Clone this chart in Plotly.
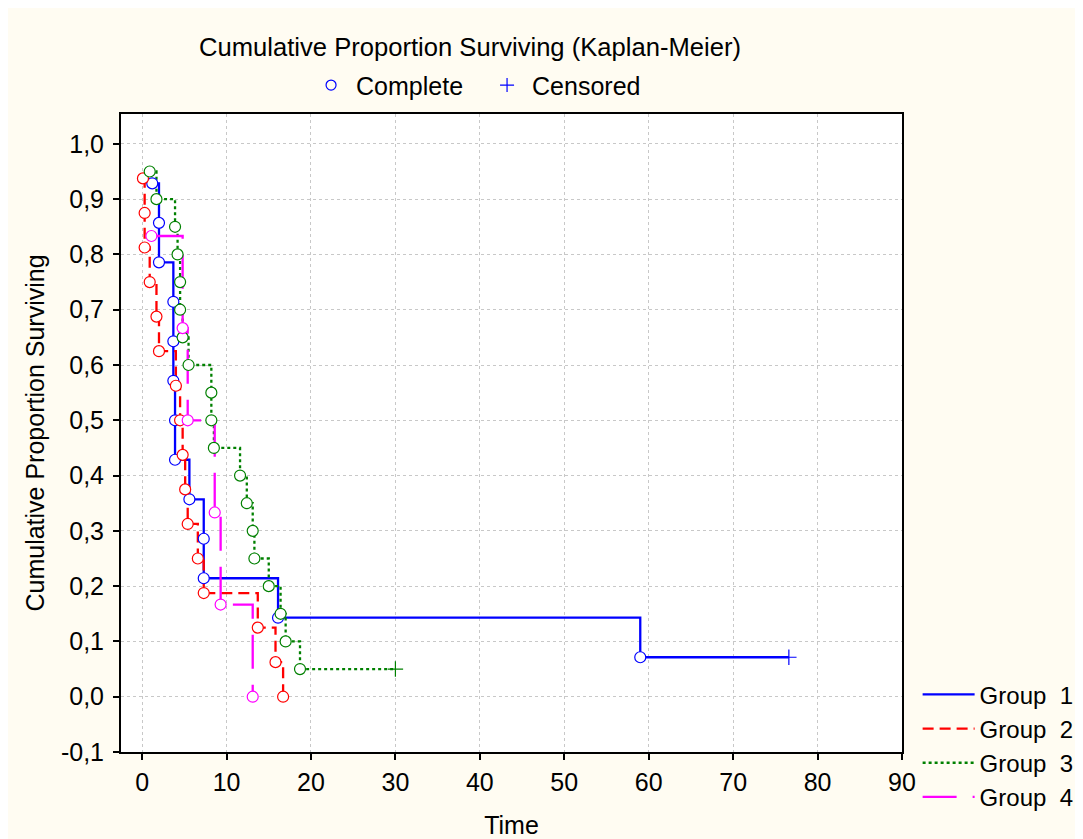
import plotly.graph_objects as go

# ---- data ----
group_names = ["Group\u00a0\u00a01", "Group\u00a0\u00a02", "Group\u00a0\u00a03", "Group\u00a0\u00a04"]

g1_time = [1.2, 2.0, 2.0, 3.7, 3.7, 3.7, 3.9, 3.9, 5.6, 7.3, 7.3, 16.1, 59.0]
g1_surv = [0.9286, 0.8571, 0.7857, 0.7143, 0.6429, 0.5714, 0.5, 0.4286, 0.3571, 0.2857, 0.2143, 0.1429, 0.0714]
g1_cens_time = [76.6]
g1_cens_surv = [0.0714]

g2_time = [0.1, 0.3, 0.3, 0.9, 1.7, 2.0, 4.0, 4.5, 4.8, 5.1, 5.4, 6.6, 7.3, 13.7, 15.8, 16.7]
g2_surv = [0.9375, 0.875, 0.8125, 0.75, 0.6875, 0.625, 0.5625, 0.5, 0.4375, 0.375, 0.3125, 0.25, 0.1875, 0.125, 0.0625, 0.0]
g2_cens_time = []
g2_cens_surv = []

g3_time = [0.9, 1.7, 3.9, 4.2, 4.5, 4.5, 4.8, 5.5, 8.2, 8.2, 8.5, 11.6, 12.4, 13.1, 13.3, 15.0, 16.4, 17.0, 18.7]
g3_surv = [0.95, 0.9, 0.85, 0.8, 0.75, 0.7, 0.65, 0.6, 0.55, 0.5, 0.45, 0.4, 0.35, 0.3, 0.25, 0.2, 0.15, 0.1, 0.05]
g3_cens_time = [30.0]
g3_cens_surv = [0.05]

g4_time = [1.1, 4.8, 5.4, 8.6, 9.3, 13.1]
g4_surv = [0.8333, 0.6667, 0.5, 0.3333, 0.1667, 0.0]
g4_cens_time = []
g4_cens_surv = []

x_ticks = [0, 10, 20, 30, 40, 50, 60, 70, 80, 90]
y_ticks = [-0.1, 0.0, 0.1, 0.2, 0.3, 0.4, 0.5, 0.6, 0.7, 0.8, 0.9, 1.0]
y_tick_labels = ["-0,1", "0,0", "0,1", "0,2", "0,3", "0,4", "0,5", "0,6", "0,7", "0,8", "0,9", "1,0"]

colors = ["#0000FF", "#FF0000", "#008000", "#FF00FF"]
dashes = ["solid", "11px,6px", "3px,3px", "34px,16px"]

groups = [
    (g1_time, g1_surv, g1_cens_time, g1_cens_surv),
    (g2_time, g2_surv, g2_cens_time, g2_cens_surv),
    (g3_time, g3_surv, g3_cens_time, g3_cens_surv),
    (g4_time, g4_surv, g4_cens_time, g4_cens_surv),
]

FONT = "Liberation Sans, Arial, sans-serif"

fig = go.Figure()

# step lines
for i, (t, s, ct, cs) in enumerate(groups):
    fig.add_trace(go.Scatter(
        x=t + ct, y=s + cs, mode="lines", line_shape="hv",
        line=dict(color=colors[i], width=2.3, dash=dashes[i]),
        name=group_names[i], legend="legend", hoverinfo="skip",
    ))

# complete / censored markers
for i, (t, s, ct, cs) in enumerate(groups):
    fig.add_trace(go.Scatter(
        x=t, y=s, mode="markers", showlegend=False,
        marker=dict(symbol="circle", size=11, color="white",
                    line=dict(color=colors[i], width=1.2)),
    ))
    if ct:
        fig.add_trace(go.Scatter(
            x=ct, y=cs, mode="markers", showlegend=False,
            marker=dict(symbol="cross-thin", size=11,
                        line=dict(color=colors[i], width=1.2)),
        ))

# top legend (Complete / Censored)
fig.add_trace(go.Scatter(
    x=[None], y=[None], mode="markers", name="Complete", legend="legend2",
    marker=dict(symbol="circle-open", size=10, color="#0000FF", line=dict(width=1.2)),
))
fig.add_trace(go.Scatter(
    x=[None], y=[None], mode="markers", name="Censored", legend="legend2",
    marker=dict(symbol="cross-thin", size=10, line=dict(color="#0000FF", width=1.2)),
))

axis_common = dict(
    showline=True, linecolor="black", linewidth=2, mirror=True,
    ticks="outside", ticklen=6, tickcolor="black", tickwidth=1.5,
    showgrid=True, gridcolor="#C8C8C8", gridwidth=1, griddash="3px,3px",
    zeroline=False, automargin=False,
    tickfont=dict(family=FONT, size=25, color="black"),
)

fig.update_layout(
    width=1083, height=839,
    paper_bgcolor="#FFFCF2", plot_bgcolor="white",
    margin=dict(l=113, r=187, t=106, b=95),
    title=dict(text="Cumulative Proportion Surviving (Kaplan-Meier)",
               x=0.4266, xanchor="center", y=0.9535, yanchor="middle",
               font=dict(family=FONT, size=25.6, color="black")),
    xaxis=dict(range=[-2.5, 90], tickvals=x_ticks, ticklabelstandoff=1,
               title=dict(text="Time", font=dict(family=FONT, size=25, color="black"), standoff=21),
               **axis_common),
    yaxis=dict(range=[-0.1, 1.054], tickvals=y_ticks, ticktext=y_tick_labels,
               ticklabelstandoff=4,
               title=dict(text="Cumulative Proportion Surviving", font=dict(family=FONT, size=25, color="black"), standoff=9),
               **axis_common),
    legend=dict(x=1.02, xanchor="left", y=0.125, yanchor="top",
                bgcolor="rgba(0,0,0,0)", font=dict(family=FONT, size=24, color="black"),
                tracegroupgap=0, itemwidth=52),
    legend2=dict(orientation="h", x=0.4623, xanchor="center", y=1.045, yanchor="middle",
                 bgcolor="rgba(0,0,0,0)", font=dict(family=FONT, size=25, color="black"),
                 itemwidth=40, entrywidth=121),
    showlegend=True,
)

fig.write_html("out.html")
